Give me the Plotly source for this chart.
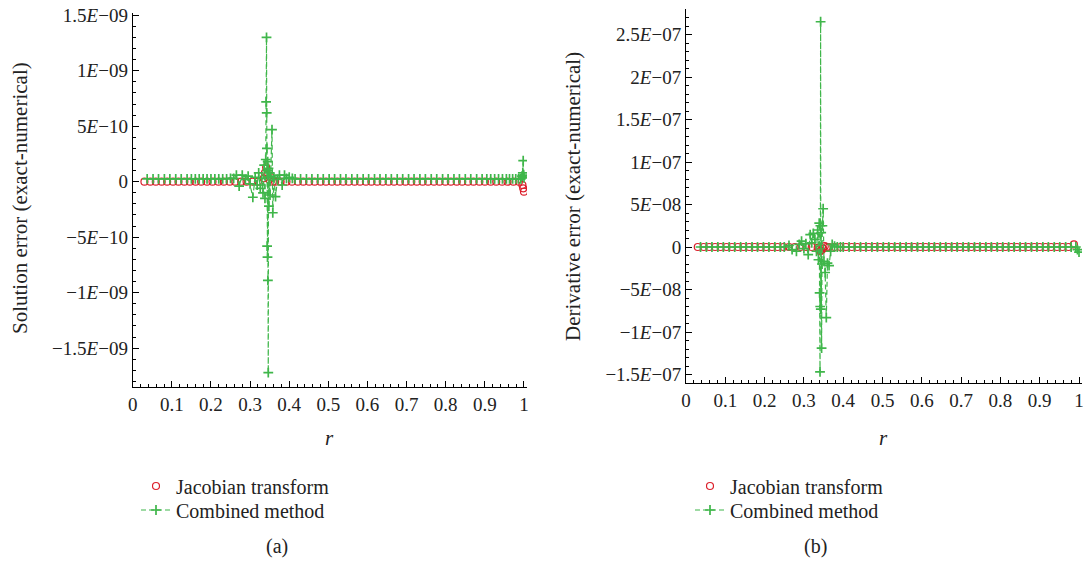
import plotly.graph_objects as go

# ---------------- data ----------------
# Jacobian transform, panel (a): r and solution error (x1e-10)
jac_a_r = [0.030,0.045,0.059,0.074,0.088,0.103,0.117,0.132,0.146,0.161,0.175,0.190,0.204,0.219,
           0.233,0.248,0.262,0.277,0.291,0.306,0.320,0.335,0.338,0.341,0.344,0.349,0.353,0.358,0.364,
           0.378,0.393,0.407,0.422,0.436,0.451,0.465,0.480,0.494,0.509,0.523,0.538,0.552,0.567,0.581,
           0.596,0.610,0.625,0.639,0.654,0.668,0.683,0.697,0.712,0.726,0.741,0.755,0.770,0.784,0.799,
           0.813,0.828,0.842,0.857,0.871,0.886,0.900,0.915,0.929,0.944,0.958,0.973,0.987,0.996,0.998,1.000]
jac_a_y = [0,0,0,0,0,0,0,0,0,0,0,0,0,0,
           0,0,0,0,0,0,0,0.3,0.8,1.3,0.6,0.2,0.4,0.0,0,
           0,0,0,0,0,0,0,0,0,0,0,0,0,0,0,
           0,0,0,0,0,0,0,0,0,0,0,0,0,0,0,
           0,0,0,0,0,0,0,0,0,0,0,0,0,-0.3,-0.6,-0.9]

# Combined method, panel (a): r and solution error (x1e-10)
comb_a_r = [0.037,0.052,0.066,0.081,0.095,0.110,0.124,0.139,0.150,0.160,0.170,0.180,0.190,0.200,
            0.210,0.220,0.230,0.240,0.250,0.258,0.265,0.272,0.280,0.288,0.295,0.300,0.307,0.313,
            0.318,0.322,0.326,0.330,0.333,0.336,0.338,0.340,0.341,0.342,0.3425,0.343,0.3435,0.344,
            0.3445,0.345,0.3455,0.3465,0.347,0.348,0.349,0.351,0.353,0.356,0.358,0.361,0.365,0.370,
            0.375,0.382,0.388,0.393,0.400,0.408,0.415,0.429,0.444,0.458,0.473,0.487,0.502,0.516,
            0.531,0.545,0.560,0.574,0.589,0.603,0.618,0.632,0.647,0.661,0.676,0.690,0.705,0.719,
            0.734,0.748,0.763,0.777,0.792,0.806,0.821,0.835,0.850,0.864,0.879,0.893,0.905,0.915,
            0.925,0.935,0.945,0.955,0.963,0.971,0.979,0.986,0.992,0.995,0.997,0.998,0.999,1.000]
comb_a_y = [0.25,0.25,0.25,0.25,0.25,0.25,0.25,0.25,0.25,0.25,0.25,0.25,0.25,0.25,
            0.25,0.25,0.25,0.25,0.3,0.3,0.6,-0.4,0.6,0.2,0.5,-0.2,-1.4,0.4,
            -0.3,0.8,-0.6,0.3,-1.0,1.5,-1.5,2.0,7.2,13.0,6.2,3.0,-5.8,1.0,
            -6.8,1.8,-8.9,-17.2,1.2,-2.2,0.8,-1.2,0.5,4.7,-2.8,0.4,-1.35,0.2,
            0.6,-0.3,0.6,0.3,0.4,0.3,0.25,0.25,0.25,0.25,0.25,0.25,0.25,0.25,
            0.25,0.25,0.25,0.25,0.25,0.25,0.25,0.25,0.25,0.25,0.25,0.25,0.25,0.25,
            0.25,0.25,0.25,0.25,0.25,0.25,0.25,0.25,0.25,0.25,0.25,0.25,0.25,0.25,
            0.25,0.25,0.25,0.25,0.25,0.25,0.25,0.25,0.25,0.5,0.8,1.9,0.6,0.35]

# Jacobian transform, panel (b): r and derivative error (x1e-8)
jac_b_r = [0.030,0.045,0.059,0.074,0.088,0.103,0.117,0.132,0.146,0.161,0.175,0.190,0.204,0.219,
           0.233,0.248,0.262,0.277,0.291,0.306,0.320,0.335,0.338,0.341,0.344,0.349,0.353,0.358,0.364,
           0.378,0.393,0.407,0.422,0.436,0.451,0.465,0.480,0.494,0.509,0.523,0.538,0.552,0.567,0.581,
           0.596,0.610,0.625,0.639,0.654,0.668,0.683,0.697,0.712,0.726,0.741,0.755,0.770,0.784,0.799,
           0.813,0.828,0.842,0.857,0.871,0.886,0.900,0.915,0.929,0.944,0.958,0.973,0.987,1.000]
jac_b_y = [0,0,0,0,0,0,0,0,0,0,0,0,0,0,
           0,0,0,0,0,0,0,-0.1,-0.3,-0.5,-0.4,-0.2,0.1,0,0,
           0,0,0,0,0,0,0,0,0,0,0,0,0,0,0,
           0,0,0,0,0,0,0,0,0,0,0,0,0,0,0,
           0,0,0,0,0,0,0,0,0,0,0,0,0.3]

# Combined method, panel (b): r and derivative error (x1e-8)
comb_b_r = [0.037,0.052,0.066,0.081,0.095,0.110,0.124,0.139,0.153,0.168,0.182,0.197,0.211,0.226,
            0.240,0.250,0.262,0.270,0.281,0.288,0.294,0.300,0.305,0.311,0.316,0.320,0.324,0.328,
            0.332,0.335,0.337,0.339,0.340,0.341,0.3415,0.342,0.3425,0.343,0.344,0.345,0.346,0.347,
            0.349,0.351,0.354,0.357,0.360,0.364,0.368,0.372,0.378,0.385,0.393,0.400,0.415,0.429,
            0.444,0.458,0.473,0.487,0.502,0.516,0.531,0.545,0.560,0.574,0.589,0.603,0.618,0.632,
            0.647,0.661,0.676,0.690,0.705,0.719,0.734,0.748,0.763,0.777,0.792,0.806,0.821,0.835,
            0.850,0.864,0.879,0.893,0.908,0.922,0.937,0.951,0.966,0.980,0.992,0.996,1.000]
comb_b_y = [0,0,0,0,0,0,0,0,0,0,0,0,0,0,
            0,0,0.2,-0.3,-0.5,0.3,0.7,-0.2,0.4,-0.9,1.45,0.5,1.6,0.9,
            -0.5,2.0,-1.5,2.8,-5.4,-14.7,-7.0,2.5,26.5,-7.3,1.7,-11.9,-2.0,2.5,
            4.5,-1.7,-3.0,-8.3,-1.9,-2.2,-0.5,0.3,0.1,0,0,0,0,0,
            0,0,0,0,0,0,0,0,0,0,0,0,0,0,
            0,0,0,0,0,0,0,0,0,0,0,0,0,0,
            0,0,0,0,0,0,0,0,0,0,0,-0.3,-0.6]

scale_a = 1e-10
scale_b = 1e-8

ya_ticks = [-1.5e-9, -1e-9, -5e-10, 0, 5e-10, 1e-9, 1.5e-9]
ya_text = ["−1.5<i>E</i>−09", "−1<i>E</i>−09", "−5<i>E</i>−10", "0",
           "5<i>E</i>−10", "1<i>E</i>−09", "1.5<i>E</i>−09"]
yb_ticks = [-1.5e-7, -1e-7, -5e-8, 0, 5e-8, 1e-7, 1.5e-7, 2e-7, 2.5e-7]
yb_text = ["−1.5<i>E</i>−07", "−1<i>E</i>−07", "−5<i>E</i>−08", "0", "5<i>E</i>−08",
           "1<i>E</i>−07", "1.5<i>E</i>−07", "2<i>E</i>−07", "2.5<i>E</i>−07"]
x_ticks = [0, 0.1, 0.2, 0.3, 0.4, 0.5, 0.6, 0.7, 0.8, 0.9, 1]
x_text = ["0", "0.1", "0.2", "0.3", "0.4", "0.5", "0.6", "0.7", "0.8", "0.9", "1"]

RED = "#dc1f2b"
GREEN = "#3fb64a"
FONT = "Liberation Serif"
TXT = "#222222"
DASH = "5px,3px"

fig = go.Figure()

def add_pair(jr, jy, cr, cy, sc, xa, ya, leg_j, leg_c):
    fig.add_trace(go.Scatter(
        x=jr, y=[v * sc for v in jy], mode="markers", name="Jacobian transform",
        marker=dict(symbol="circle-open", size=7, color=RED, line=dict(width=1.2, color=RED)),
        xaxis=xa, yaxis=ya, legend=leg_j))
    fig.add_trace(go.Scatter(
        x=cr, y=[v * sc for v in cy], mode="lines+markers", name="Combined method",
        line=dict(color=GREEN, width=1.2, dash=DASH),
        marker=dict(symbol="cross-thin", size=7, color=GREEN, line=dict(width=1.7, color=GREEN)),
        xaxis=xa, yaxis=ya, legend=leg_c))

add_pair(jac_a_r, jac_a_y, comb_a_r, comb_a_y, scale_a, "x", "y", "legend", "legend2")
add_pair(jac_b_r, jac_b_y, comb_b_r, comb_b_y, scale_b, "x2", "y2", "legend3", "legend4")

W, H = 1084, 562

def px(x):
    return x / W

def py(y):
    return 1 - y / H

axis_common = dict(showline=True, linecolor="black", linewidth=1, ticks="inside",
                   ticklen=6, tickcolor="black", showgrid=False, zeroline=False,
                   automargin=False,
                   tickfont=dict(family=FONT, size=19, color=TXT), mirror=False)

def leg(xpx, ypx):
    return dict(x=px(xpx), y=py(ypx), xanchor="left", yanchor="middle",
                font=dict(family=FONT, size=20, color=TXT), bgcolor="rgba(0,0,0,0)",
                borderwidth=0)

fig.update_layout(
    template="none",
    width=W, height=H, margin=dict(l=0, r=0, t=0, b=0, autoexpand=False),
    paper_bgcolor="white", plot_bgcolor="white",
    font=dict(family=FONT, size=19, color=TXT),
    xaxis=dict(domain=[px(132.7), px(527)], range=[0, 1.0077], anchor="y",
               tickvals=x_ticks, ticktext=x_text,
               minor=dict(ticks="inside", ticklen=3, dtick=0.02, tick0=0, tickcolor="black"),
               **axis_common),
    yaxis=dict(domain=[py(387), py(13)], range=[-1.85e-9, 1.52e-9], anchor="x",
               tickvals=ya_ticks, ticktext=ya_text,
               minor=dict(ticks="inside", ticklen=3, dtick=1e-10, tick0=0, tickcolor="black"),
               **axis_common),
    xaxis2=dict(domain=[px(686), px(1082)], range=[0, 1.0076], anchor="y2",
                tickvals=x_ticks, ticktext=x_text,
                minor=dict(ticks="inside", ticklen=3, dtick=0.02, tick0=0, tickcolor="black"),
                **axis_common),
    yaxis2=dict(domain=[py(383), py(9)], range=[-1.6e-7, 2.8e-7], anchor="x2",
                tickvals=yb_ticks, ticktext=yb_text,
                minor=dict(ticks="inside", ticklen=3, dtick=1e-8, tick0=0, tickcolor="black"),
                **axis_common),
    legend=leg(136, 486),
    legend2=leg(136, 510),
    legend3=leg(690, 486),
    legend4=leg(690, 510),
    showlegend=True,
)

ann = [
    dict(text="<i>r</i>", x=px(329), y=py(438), size=21),
    dict(text="<i>r</i>", x=px(883), y=py(438), size=21),
    dict(text="(a)", x=px(277), y=py(546), size=20),
    dict(text="(b)", x=px(815), y=py(546), size=20),
    dict(text="Solution error (exact-numerical)", x=px(20), y=py(198), textangle=-90, size=21),
    dict(text="Derivative error (exact-numerical)", x=px(573), y=py(197), textangle=-90, size=21),
]
for a in ann:
    size = a.pop("size")
    fig.add_annotation(xref="paper", yref="paper", showarrow=False,
                       xanchor="center", yanchor="middle",
                       font=dict(family=FONT, size=size, color=TXT), **a)

fig.write_html("out.html")
